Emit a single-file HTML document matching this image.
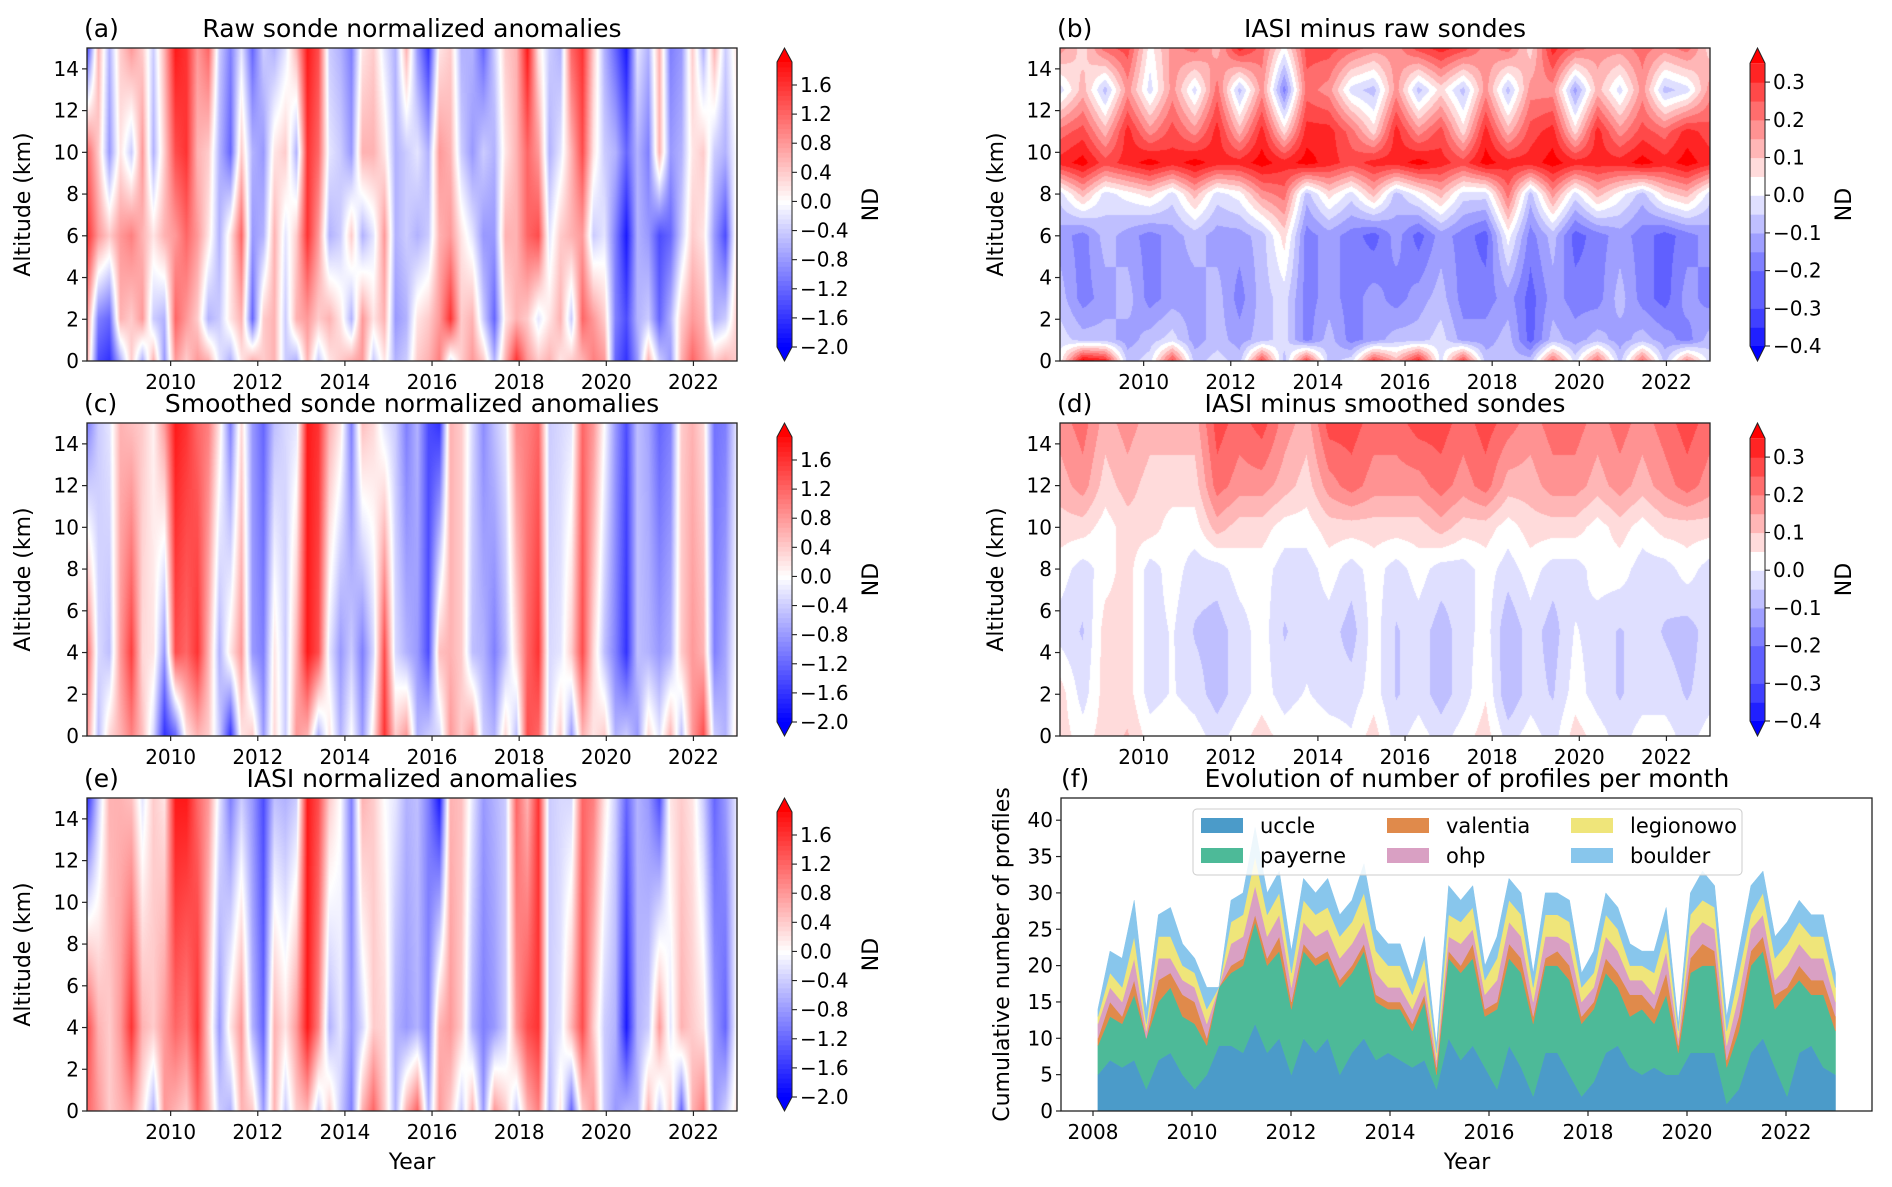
<!DOCTYPE html>
<html><head><meta charset="utf-8">
<style>
html,body{margin:0;padding:0;background:#fff;}
#root{position:relative;width:1892px;height:1187px;overflow:hidden;background:#fff;font-family:"DejaVu Sans","Liberation Sans",sans-serif;}
canvas{position:absolute;}
svg{position:absolute;left:0;top:0;}
</style></head>
<body>
<div id="root">
<canvas id="cvA" width="650" height="313" style="left:87px;top:48px"></canvas>
<canvas id="cvB" width="650" height="313" style="left:1060px;top:48px"></canvas>
<canvas id="cvC" width="650" height="313" style="left:87px;top:423px"></canvas>
<canvas id="cvD" width="650" height="313" style="left:1060px;top:423px"></canvas>
<canvas id="cvE" width="650" height="313" style="left:87px;top:798px"></canvas>
<svg id="ov" width="1892" height="1187" xmlns="http://www.w3.org/2000/svg"></svg>
</div>
<script>
// ---------- DATA ----------
const heatCols60 = 60;
const altA = [0,2,6,10,15];
const a0 = [0.6,-1.4,-1.6,-0.6,0.4,-0.6,0.6,-0.8,0.8,0.4,0.8,0.6,-0.2,-0.6,0.2,0.6,0.4,0.6,-0.4,-0.6,0.6,-0.4,0.2,0.4,0.6,0.8,-0.4,0.2,-0.6,-0.4,0.4,0.6,1.0,-0.2,0.4,0.8,0.4,-0.6,0.6,1.6,0.8,0.4,0.6,0.2,0.4,0.6,1.0,0.8,-1.2,-1.6,-0.8,0.6,-0.4,-0.8,0.6,1.2,0.8,0.4,0.6,0.4];
const a2 = [0.8,-1.0,-1.2,0.6,0.4,0.8,-0.4,-0.6,1.2,0.8,0.4,-0.6,-0.4,0.2,0.6,-1.2,0.4,0.6,-0.4,0.6,0.8,0.4,0.6,0.2,-0.6,0.8,0.2,0.6,-0.8,-0.6,0.2,0.4,0.8,1.6,0.4,0.6,-0.4,-1.2,0.2,0.6,0.4,-0.2,0.2,0.6,-0.4,1.2,0.8,0.4,-1.0,-1.4,-0.6,-0.4,-1.2,-0.6,0.4,0.8,0.6,-0.6,-0.4,0.4];
const a6 = [1.6,0.8,0.4,0.8,1.0,0.6,0.2,0.6,0.8,1.2,0.8,0.2,-0.6,0.2,1.2,-0.8,-0.6,0.6,-0.2,0.4,1.6,0.8,-0.6,-0.4,0.4,-0.6,-0.2,0.8,-0.6,-0.4,-0.6,-0.4,0.6,0.8,0.2,-0.2,-0.8,-0.8,0.6,0.6,1.2,1.4,-0.2,0.4,0.6,0.8,-0.4,-0.2,-1.0,-1.8,-0.6,-0.8,-1.4,-1.2,-0.4,0.4,0.2,-0.8,-1.4,0.2];
const a10 = [1.2,0.4,-0.8,0.2,-0.4,0.8,-0.6,0.4,1.4,1.6,0.6,0.4,-0.6,-1.2,0.4,-0.6,-0.8,0.2,0.4,-0.6,1.6,1.2,-0.2,-0.4,-0.8,0.6,0.6,0.2,-0.6,-0.4,-0.2,-0.6,0.8,0.6,-0.4,-0.8,-0.4,-0.6,0.2,0.6,1.2,0.8,-0.6,-0.2,0.6,1.4,0.2,-0.4,-0.6,-1.2,-0.6,-1.0,0.6,-0.8,-0.6,0.2,0.4,-0.4,-0.6,0.0];
const a15 = [-1.4,0.6,-0.6,0.4,0.8,0.4,-0.4,0.6,1.8,1.6,0.8,1.2,-0.4,-1.0,-0.2,-1.2,-0.4,-0.6,-0.2,0.6,1.8,1.4,-0.4,-0.6,-1.0,0.2,0.4,-0.2,-0.6,0.6,-0.8,-1.6,0.2,0.4,-0.6,-0.6,-1.2,-0.4,0.4,0.6,1.8,0.2,-0.4,-0.6,1.2,1.6,0.4,-0.6,-1.2,-1.8,-0.2,-0.6,0.6,-1.0,-0.8,0.4,-0.6,0.6,-0.4,0.2];

const altC = [0,4,15];
const c0 = [0.8,-0.5,0.3,0.6,1.0,0.5,-0.3,-1.6,-1.2,0.2,0.6,0.4,-0.4,-1.6,0.2,0.4,-0.8,0.3,-0.4,0.8,0.6,-0.6,0.2,-0.6,0.0,-0.8,0.2,1.6,0.4,0.8,-0.6,-0.4,-0.3,0.8,0.4,0.8,-0.4,-0.6,0.3,-0.5,1.4,1.2,-0.3,0.4,-0.8,0.6,0.2,0.4,-0.6,-0.4,-0.8,0.3,-0.2,0.6,-0.5,0.8,1.4,-0.4,-0.6,0.2];
const c4 = [1.2,-0.3,-0.5,0.8,1.5,0.3,0.2,-0.8,1.4,1.2,1.6,0.6,-0.6,0.2,0.8,-0.8,-1.0,0.2,-0.4,0.6,1.8,1.4,-0.2,-0.8,-0.4,-1.0,-0.3,1.4,-0.3,-0.6,-0.8,-1.4,0.5,0.6,0.4,-0.5,-0.6,-1.0,-0.5,0.3,1.2,1.6,-0.3,-0.2,0.4,1.4,0.3,-0.5,-1.0,-1.6,-0.5,-0.6,-0.8,-0.6,0.4,0.8,0.6,-1.0,-0.7,0.0];
const c15 = [-1.0,-0.4,-0.2,0.6,0.5,0.4,0.1,0.8,1.8,1.6,1.2,1.0,0.2,-1.0,0.3,-0.8,-1.2,-0.5,-0.3,-0.2,1.8,1.6,0.6,0.2,-1.0,0.5,0.3,-0.2,-0.4,-1.0,-0.6,-1.4,-1.6,0.6,0.4,-0.3,-0.9,-0.5,-0.2,0.9,1.0,1.2,-0.4,-0.3,-0.2,1.2,0.8,0.0,-0.8,-1.4,-0.5,-0.7,-1.2,-1.0,0.4,0.6,0.3,-1.1,-1.0,-0.2];

const altE = [0,4,15];
const e0 = [1.2,0.8,0.4,0.6,0.8,0.2,-0.6,0.8,0.6,0.4,1.2,0.6,-0.4,-0.6,0.6,0.4,-0.8,0.6,-0.4,0.4,0.6,-0.4,0.4,-0.4,-1.0,0.6,1.2,0.4,-0.6,0.6,1.2,-0.6,0.8,0.4,-0.4,0.6,-0.8,0.8,0.4,-0.4,0.6,1.0,-0.6,0.2,-1.2,0.4,0.8,-0.4,-0.8,-0.6,-0.6,0.6,-0.4,0.4,-1.2,0.6,1.0,-0.8,-0.4,0.2];
const e4 = [1.4,0.6,0.4,0.8,1.6,0.6,0.4,0.8,1.2,1.0,1.6,0.4,-0.8,0.2,0.8,-0.6,-1.2,0.6,0.2,0.8,1.8,1.0,-0.6,-0.2,-0.8,-0.3,0.4,0.3,-0.6,-0.8,-0.6,-1.0,0.6,0.8,0.4,-0.6,-1.0,-0.8,-0.4,0.8,1.4,1.6,-0.4,-0.2,0.6,1.4,0.4,-0.4,-0.6,-1.8,-0.6,-0.4,0.8,-0.2,0.6,0.4,0.2,-0.8,-1.2,0.0];
const e15 = [-1.6,-0.4,0.6,0.6,0.5,-0.2,0.4,0.2,1.8,1.8,1.2,0.8,-0.2,-1.0,-0.4,-0.8,-1.4,-0.5,-0.6,-0.4,1.8,1.4,0.4,0.0,-1.0,0.6,0.4,0.0,-0.2,-0.6,-0.5,-1.0,-1.8,0.6,0.5,-0.2,-0.8,-0.6,-0.4,1.2,0.6,1.6,-0.4,-0.3,-0.3,1.2,1.0,0.2,-0.4,-1.2,-0.6,-0.8,-1.4,0.2,0.4,0.2,-0.4,-1.2,-0.8,-0.2];

const altB = [0,1,3,6,8,9.5,11,13,15];
const b0 = [0.0,0.35,0.3,-0.1,-0.05,0.25,-0.1,-0.05,-0.1,0.25,-0.1,0.25,-0.1,-0.05,0.25,0.1,0.3,-0.05,0.25,-0.1,-0.1,-0.1,0.2,-0.05,0.2,-0.1,0.2,-0.1,0.15,-0.05];
const b1 = [-0.05,-0.1,-0.1,-0.15,-0.1,-0.05,-0.15,-0.1,-0.15,-0.1,-0.05,-0.2,-0.1,-0.2,-0.15,-0.1,-0.1,-0.05,-0.15,-0.15,-0.1,-0.25,-0.1,-0.15,-0.1,-0.15,-0.1,-0.15,-0.2,-0.1];
const b3 = [-0.1,-0.2,-0.15,-0.1,-0.2,-0.15,-0.15,-0.1,-0.2,-0.1,-0.05,-0.2,-0.15,-0.2,-0.15,-0.2,-0.15,-0.1,-0.2,-0.2,-0.15,-0.25,-0.15,-0.2,-0.2,-0.1,-0.2,-0.25,-0.15,-0.2];
const b6 = [-0.15,-0.2,-0.1,-0.15,-0.2,-0.15,-0.1,-0.15,-0.15,-0.1,0.05,-0.2,-0.15,-0.2,-0.25,-0.15,-0.25,-0.15,-0.2,-0.25,0.0,-0.2,-0.1,-0.25,-0.2,-0.15,-0.2,-0.25,-0.2,-0.15];
const b8 = [-0.05,0.1,-0.05,0.0,0.05,-0.05,0.1,-0.05,0.0,0.15,0.2,-0.1,0.05,-0.05,0.1,-0.1,0.0,0.1,-0.05,-0.05,0.2,-0.1,0.15,-0.05,0.1,0.0,-0.1,0.05,0.1,-0.05];
const b95 = [0.3,0.35,0.25,0.3,0.35,0.3,0.35,0.3,0.3,0.35,0.3,0.35,0.3,0.25,0.3,0.3,0.35,0.3,0.25,0.35,0.3,0.3,0.35,0.3,0.3,0.3,0.35,0.3,0.35,0.3];
const b11 = [0.2,0.25,0.1,0.3,0.15,0.25,0.15,0.3,0.1,0.3,0.05,0.3,0.3,0.2,0.05,0.3,0.15,0.25,0.05,0.3,0.1,0.25,0.3,0.05,0.3,0.15,0.25,0.2,0.3,0.25];
const b13 = [-0.05,0.1,-0.1,0.15,-0.05,0.15,-0.05,0.2,-0.1,0.15,-0.2,0.2,0.15,-0.05,-0.1,0.15,-0.1,0.05,-0.1,0.15,-0.1,0.15,0.15,-0.15,0.1,-0.05,0.15,-0.1,-0.05,0.15];
const b15 = [0.15,0.05,0.2,0.25,0.0,0.15,0.2,0.1,0.3,0.2,0.0,0.25,0.25,0.2,0.15,0.15,0.25,0.3,0.25,0.15,0.2,0.05,0.3,0.2,0.15,0.15,0.2,0.15,0.2,0.05];

const altD = [0,2,5,8,10,12,15];
const d0 = [0.05,0.0,0.05,0.08,0.0,0.02,0.0,-0.05,0.0,0.05,0.0,0.02,0.0,-0.02,0.05,-0.05,0.0,-0.05,0.0,0.05,-0.05,0.0,-0.05,0.05,0.0,-0.05,0.0,0.0,-0.05,0.0];
const d2 = [0.05,-0.05,0.05,0.05,-0.05,-0.02,-0.05,-0.1,-0.05,0.0,-0.05,-0.02,-0.05,-0.05,0.0,-0.08,-0.05,-0.1,-0.05,0.02,-0.12,-0.05,-0.08,0.0,-0.05,-0.08,-0.05,-0.05,-0.08,-0.05];
const d5 = [-0.05,-0.08,0.05,0.05,-0.05,-0.02,-0.08,-0.1,-0.05,0.0,-0.08,-0.05,-0.05,-0.1,0.0,-0.08,-0.05,-0.1,-0.05,0.0,-0.12,-0.05,-0.1,-0.02,-0.05,-0.08,-0.05,-0.08,-0.1,-0.05];
const d8 = [0.0,-0.05,0.0,0.05,-0.05,0.0,-0.05,-0.05,0.0,0.0,-0.05,-0.05,0.0,-0.05,0.0,-0.05,0.0,-0.05,-0.05,0.0,-0.05,0.0,-0.05,-0.05,0.0,0.0,-0.05,-0.05,0.0,-0.05];
const d10 = [0.05,0.05,0.0,0.05,0.05,0.0,0.0,0.1,0.05,0.05,0.0,0.0,0.05,0.05,0.05,0.05,0.05,0.1,0.05,0.05,0.0,0.05,0.05,0.05,0.0,0.05,0.0,0.05,0.05,0.05];
const d12 = [0.1,0.15,0.05,0.1,0.05,0.05,0.05,0.2,0.15,0.15,0.1,0.05,0.15,0.2,0.15,0.15,0.15,0.2,0.15,0.2,0.1,0.1,0.15,0.15,0.1,0.15,0.1,0.15,0.2,0.15];
const d15 = [0.15,0.2,0.1,0.15,0.1,0.1,0.1,0.25,0.2,0.25,0.15,0.1,0.25,0.25,0.2,0.2,0.25,0.25,0.2,0.25,0.2,0.15,0.2,0.2,0.15,0.2,0.15,0.2,0.25,0.2];

const cbTicksAnom = [1.6,1.2,0.8,0.4,0.0,-0.4,-0.8,-1.2,-1.6,-2.0];
const cbTicksDiff = [0.3,0.2,0.1,0.0,-0.1,-0.2,-0.3,-0.4];
const altTicks = [0,2,4,6,8,10,12,14];
const yearTicksHeat = [2010,2012,2014,2016,2018,2020,2022];
const yearTicksF = [2008,2010,2012,2014,2016,2018,2020,2022];
const countTicks = [0,5,10,15,20,25,30,35,40];

const fStart = 2008.1, fEnd = 2023.0;
const uccle = [5,7,6,7,3,7,8,5,3,5,9,9,8,12,8,10,5,10,8,10,5,8,10,7,8,7,6,7,3,10,7,9,6,3,9,6,2,8,8,5,2,4,8,9,6,5,6,5,5,8,8,8,1,3,8,10,6,2,8,9,6,5];
const payerne = [4,6,6,9,7,8,9,8,9,4,8,10,12,14,12,12,9,12,12,11,12,11,12,8,6,7,5,8,2,11,12,12,7,11,12,13,10,12,12,13,10,10,11,8,7,9,6,11,3,11,12,12,5,8,12,12,8,14,10,7,10,6];
const valentia = [1,2,1,2,0,3,2,3,3,1,0,1,1,1,1,2,1,1,1,1,1,1,1,1,1,1,1,1,1,1,1,2,1,1,2,2,1,1,2,2,1,1,2,2,3,2,2,3,1,2,3,2,1,2,2,2,2,1,2,2,2,2];
const ohp = [2,2,2,3,1,3,2,2,2,2,0,3,3,4,3,3,2,3,3,3,3,3,3,3,2,2,2,2,1,2,3,2,2,3,3,3,2,3,2,3,2,2,3,3,2,2,2,3,1,3,3,3,2,3,3,3,2,3,3,3,3,2];
const legionowo = [1,2,2,3,1,3,3,2,2,2,0,3,3,4,3,3,2,3,3,3,3,3,4,3,3,3,2,3,1,3,3,3,2,3,3,3,2,3,3,3,2,2,3,3,2,2,3,3,1,3,3,3,2,3,2,3,3,3,3,3,3,2];
const boulder = [1,3,4,5,2,3,4,3,2,3,0,3,3,4,3,3,3,3,3,4,3,3,4,3,3,3,2,3,1,4,3,3,2,3,3,3,2,3,3,3,2,3,3,3,3,2,3,3,1,3,4,3,2,3,4,3,3,3,3,3,3,2];
const seriesNames = ["uccle","payerne","valentia","ohp","legionowo","boulder"];
const seriesColors = ["#4b9bc9","#4dba98","#e08a4b","#d9a0c3","#efe57a","#88c6ec"];

// ---------- HELPERS ----------
const NS = "http://www.w3.org/2000/svg";
const svg = document.getElementById("ov");
function mk(tag, attrs, parent){ const e=document.createElementNS(NS,tag); for(const k in attrs) e.setAttribute(k,attrs[k]); (parent||svg).appendChild(e); return e; }
function txt(s, x, y, size, anchor, parent, extra){ const t=mk("text",Object.assign({x:x,y:y,"font-size":size,"text-anchor":anchor||"middle",fill:"#000","font-family":"DejaVu Sans, Liberation Sans, sans-serif"},extra||{}),parent); t.textContent=s; return t; }
function fmt(v,d){ const s=Math.abs(v).toFixed(d); return (v<-1e-9?"\u2212":"")+s; }

function bwr(t){
  t=Math.max(-1,Math.min(1,t));
  if(t<0){ const a=1+t; return [Math.round(255*a),Math.round(255*a),255]; }
  const a=1-t; return [255,Math.round(255*a),Math.round(255*a)];
}
function colAnom(v){ return bwr(v/2); }
function colDiff(v){ const q=Math.floor(v/0.05+0.5)*0.05; return q<0?bwr(q/0.4):bwr(q/0.35); }

function drawHeat(id, alts, rows, cfn){
  const cv=document.getElementById(id), ctx=cv.getContext("2d");
  const W=cv.width,H=cv.height, img=ctx.createImageData(W,H), n=rows[0].length;
  for(let py=0;py<H;py++){
    const alt=15*(1-py/(H-1));
    let k=0; while(k<alts.length-2 && alt>alts[k+1]) k++;
    const fa=Math.max(0,Math.min(1,(alt-alts[k])/(alts[k+1]-alts[k])));
    for(let px=0;px<W;px++){
      const u=px/(W-1)*(n-1); const i=Math.min(n-2,Math.floor(u)); const fu=u-i;
      const lo=rows[k][i]*(1-fu)+rows[k][i+1]*fu;
      const hi=rows[k+1][i]*(1-fu)+rows[k+1][i+1]*fu;
      const c=cfn(lo*(1-fa)+hi*fa); const o=(py*W+px)*4;
      img.data[o]=c[0];img.data[o+1]=c[1];img.data[o+2]=c[2];img.data[o+3]=255;
    }
  }
  ctx.putImageData(img,0,0);
}
drawHeat("cvA",altA,[a0,a2,a6,a10,a15],colAnom);
drawHeat("cvC",altC,[c0,c4,c15],colAnom);
drawHeat("cvE",altE,[e0,e4,e15],colAnom);
drawHeat("cvB",altB,[b0,b1,b3,b6,b8,b95,b11,b13,b15],colDiff);
drawHeat("cvD",altD,[d0,d2,d5,d8,d10,d12,d15],colDiff);

// ---------- HEATMAP AXES ----------
const PW=650, PH=313;
const heatT0=2008.08, heatT1=2023.0;
const TK=20, TT=25, AX=22;
const panels=[
  {L:87,T:48,tag:"(a)",title:"Raw sonde normalized anomalies",type:"anom",name:"panel-a"},
  {L:1060,T:48,tag:"(b)",title:"IASI minus raw sondes",type:"diff",name:"panel-b"},
  {L:87,T:423,tag:"(c)",title:"Smoothed sonde normalized anomalies",type:"anom",name:"panel-c"},
  {L:1060,T:423,tag:"(d)",title:"IASI minus smoothed sondes",type:"diff",name:"panel-d"},
  {L:87,T:798,tag:"(e)",title:"IASI normalized anomalies",type:"anom",name:"panel-e",xlabel:true}
];
panels.forEach(p=>{
  const g=mk("g",{});
  
  
  const fr=mk("rect",{x:p.L,y:p.T,width:PW,height:PH,fill:"none",stroke:"#222","stroke-width":1.3},g);
  
  
  const yS=a=>p.T+PH*(1-a/15);
  const xS=t=>p.L+(t-heatT0)/(heatT1-heatT0)*PW;
  altTicks.forEach(a=>{
    mk("line",{x1:p.L-5,x2:p.L,y1:yS(a),y2:yS(a),stroke:"#222","stroke-width":1.2},g);
    const t=txt(String(a),p.L-8,yS(a)+7,TK,"end",g);
    
    
  });
  yearTicksHeat.forEach(y=>{
    mk("line",{x1:xS(y),x2:xS(y),y1:p.T+PH,y2:p.T+PH+5,stroke:"#222","stroke-width":1.2},g);
    const t=txt(String(y),xS(y),p.T+PH+28,TK,"middle",g);
    
    
  });
  const yl=txt("Altitude (km)",0,0,AX,"middle",g,{transform:`translate(${p.L-57},${p.T+PH/2}) rotate(-90)`});
  
  
  const tg=txt(p.tag,p.L-3,p.T-11,TT,"start",g);
  
  
  const tt=txt(p.title,p.L+PW/2,p.T-11,TT,"middle",g);
  
  
  if(p.xlabel){ const xl=txt("Year",p.L+PW/2,p.T+PH+58,AX,"middle",g);
    
     }
  const cx=p.L+690, cw=15, cb=mk("g",{},g);
  
  
  if(p.type==="anom"){
    const vy=v=>p.T+299-(v+2)/3.6*262;
    const top=p.T+14, bot=p.T+299, steps=60;
    for(let s=0;s<steps;s++){
      const y0=bot-(bot-top)*s/steps, y1=bot-(bot-top)*(s+1)/steps;
      const v=-2+(s+0.5)/steps*3.92; const c=colAnom(v);
      mk("rect",{x:cx,y:y1,width:cw,height:y0-y1+0.6,fill:`rgb(${c})`},cb);
    }
    mk("polygon",{points:`${cx},${top} ${cx+cw},${top} ${cx+cw/2},${p.T}`,fill:"rgb(255,0,0)"},cb);
    mk("polygon",{points:`${cx},${bot} ${cx+cw},${bot} ${cx+cw/2},${p.T+PH}`,fill:"rgb(0,0,255)"},cb);
    mk("polygon",{points:`${cx},${top} ${cx+cw/2},${p.T} ${cx+cw},${top} ${cx+cw},${bot} ${cx+cw/2},${p.T+PH} ${cx},${bot}`,fill:"none",stroke:"#222","stroke-width":1},cb);
    cbTicksAnom.forEach(v=>{
      mk("line",{x1:cx+cw,x2:cx+cw+5,y1:vy(v),y2:vy(v),stroke:"#222","stroke-width":1.1},cb);
      const t=txt(fmt(v,1),cx+cw+8,vy(v)+7,TK,"start",cb);
      
      
    });
  } else {
    const vy=v=>p.T+298-(v+0.4)*377;
    const top=vy(0.35), bot=vy(-0.4);
    for(let v=-0.4;v<0.349;v+=0.05){
      const c=colDiff(v+0.025);
      mk("rect",{x:cx,y:vy(v+0.05),width:cw,height:vy(v)-vy(v+0.05)+0.6,fill:`rgb(${c})`},cb);
    }
    mk("polygon",{points:`${cx},${top} ${cx+cw},${top} ${cx+cw/2},${p.T}`,fill:"rgb(255,0,0)"},cb);
    mk("polygon",{points:`${cx},${bot} ${cx+cw},${bot} ${cx+cw/2},${p.T+PH}`,fill:"rgb(0,0,255)"},cb);
    mk("polygon",{points:`${cx},${top} ${cx+cw/2},${p.T} ${cx+cw},${top} ${cx+cw},${bot} ${cx+cw/2},${p.T+PH} ${cx},${bot}`,fill:"none",stroke:"#222","stroke-width":1},cb);
    cbTicksDiff.forEach(v=>{
      mk("line",{x1:cx+cw,x2:cx+cw+5,y1:vy(v),y2:vy(v),stroke:"#222","stroke-width":1.1},cb);
      const t=txt(fmt(v,1),cx+cw+8,vy(v)+7,TK,"start",cb);
      
      
    });
  }
  const nd=txt("ND",0,0,AX,"middle",cb,{transform:`translate(${cx+cw+86},${p.T+PH/2}) rotate(-90)`});
  
  
});

// ---------- PANEL F ----------
(function(){
  const L=1061,R=1872,T=798,B=1111;
  const g=mk("g",{});
  
  
  const xS=t=>1093+(t-2008)*49.5;
  const yS=v=>B-v*7.27;
  const series=[uccle,payerne,valentia,ohp,legionowo,boulder];
  const n=uccle.length;
  const times=uccle.map((_,i)=>fStart+i*(fEnd-fStart)/(n-1));
  let base=new Array(n).fill(0);
  series.forEach((s,k)=>{
    const top=base.map((b,i)=>b+s[i]);
    let pts=times.map((t,i)=>`${xS(t).toFixed(1)},${yS(top[i]).toFixed(1)}`);
    for(let i=n-1;i>=0;i--) pts.push(`${xS(times[i]).toFixed(1)},${yS(base[i]).toFixed(1)}`);
    const poly=mk("polygon",{points:pts.join(" "),fill:seriesColors[k],stroke:seriesColors[k],"stroke-width":0.5},g);
    
    
    base=top;
  });
  const fr=mk("rect",{x:L,y:T,width:R-L,height:B-T,fill:"none",stroke:"#222","stroke-width":1.3},g);
  
  
  countTicks.forEach(v=>{
    mk("line",{x1:L-5,x2:L,y1:yS(v),y2:yS(v),stroke:"#222","stroke-width":1.2},g);
    const t=txt(String(v),L-8,yS(v)+7,TK,"end",g);
    
    
  });
  yearTicksF.forEach(y=>{
    mk("line",{x1:xS(y),x2:xS(y),y1:B,y2:B+5,stroke:"#222","stroke-width":1.2},g);
    const t=txt(String(y),xS(y),B+28,TK,"middle",g);
    
    
  });
  const yl=txt("Cumulative number of profiles",0,0,AX,"middle",g,{transform:`translate(${L-52},${(T+B)/2}) rotate(-90)`});
  
  
  const xl=txt("Year",1467,B+58,AX,"middle",g);
  
  
  const tg=txt("(f)",1061,T-11,TT,"start",g);
  
  
  const tt=txt("Evolution of number of profiles per month",1467,T-11,TT,"middle",g);
  
  
  const lg=mk("g",{},g);
  
  
  mk("rect",{x:1193,y:809,width:549,height:66,rx:4,fill:"rgba(255,255,255,0.85)",stroke:"#ccc","stroke-width":1},lg);
  const colX=[1201,1387,1571], rowY=[818,848];
  seriesNames.forEach((nm,k)=>{
    const cidx=Math.floor(k/2), r=k%2;
    const e=mk("g",{},lg);
    
    
    mk("rect",{x:colX[cidx],y:rowY[r],width:42,height:15,fill:seriesColors[k]},e);
    txt(nm,colX[cidx]+59,rowY[r]+15,21,"start",e);
  });
})();
</script>
</body></html>
